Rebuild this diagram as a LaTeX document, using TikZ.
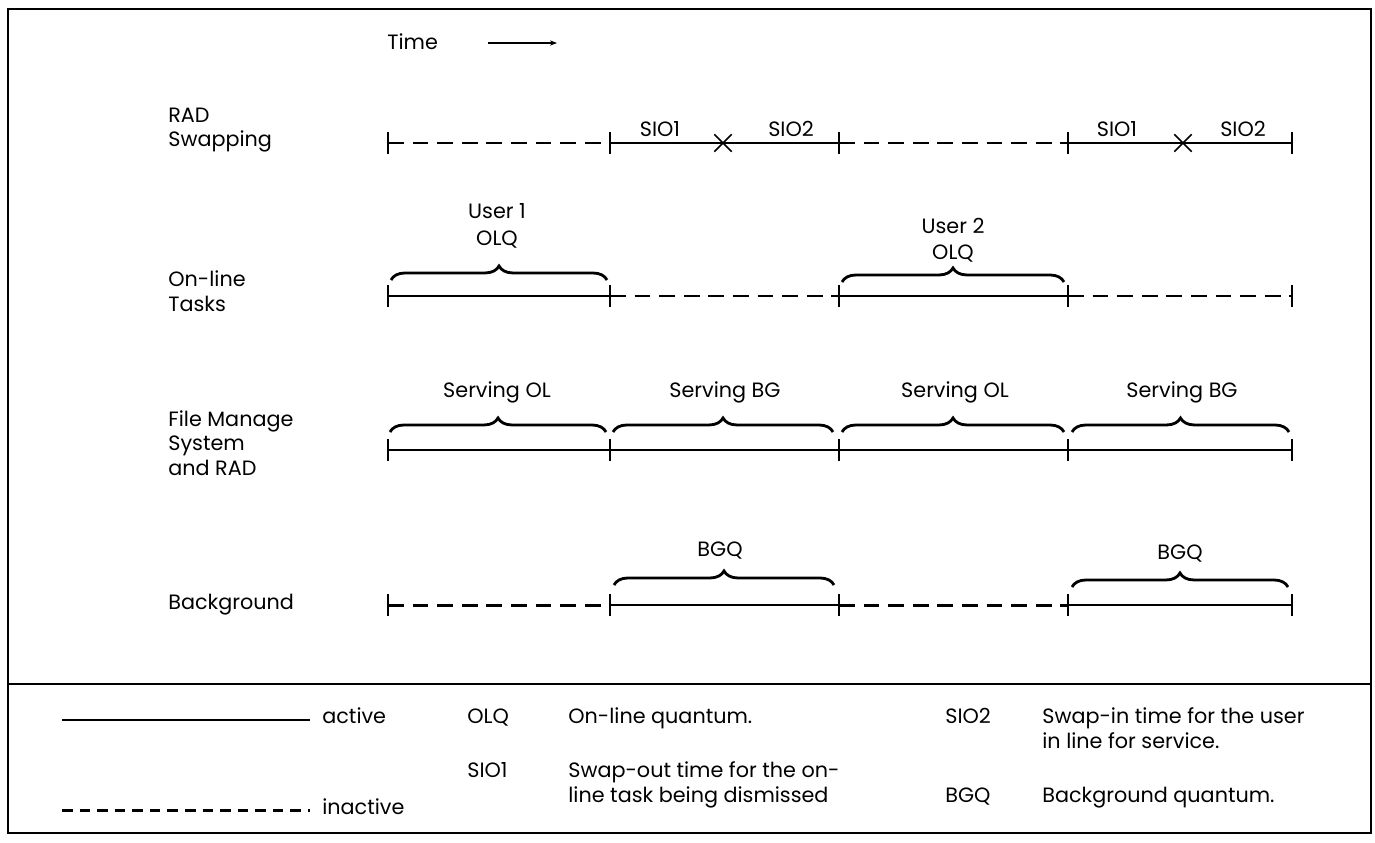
\documentclass[tikz,border=0pt]{standalone}
\usepackage{fontspec}
\setmainfont{Poppins}
\usetikzlibrary{arrows.meta,positioning,decorations.pathreplacing,shapes.misc}

\begin{document}
\begin{tikzpicture}[x=0.02cm,y=-0.02cm,
  lbl/.style={anchor=west,align=left,inner sep=0pt,font=\fontsize{11.8}{14}\selectfont},
  txt/.style={align=center,inner sep=0pt,font=\fontsize{11.8}{15}\selectfont},
  act/.style={line width=1.3pt},
  inact/.style={line width=1.7pt,dash pattern=on 9pt off 5pt},
  tickbar/.style={line width=0.9pt},
  brc/.style={decorate,decoration={brace,amplitude=8pt},line width=1.6pt},
  xmark/.style={cross out,draw,line width=0.9pt,minimum size=9pt,inner sep=0pt}
]
\useasboundingbox (0,0) rectangle (1375,842);
% frame and legend divider
\draw[line width=1.3pt] (8,9) rectangle (1371,833);
\draw[line width=1.3pt] (8,684) -- (1371,684);

% time arrow
\node[lbl] (time) at (387,42) {Time};
\coordinate (ta) at (488,43);
\coordinate (tb) at (557,43);
\draw[line width=0.6pt,-{Stealth[length=4pt,width=3pt]}] (ta) -- (tb);

% row labels
\node[lbl] (rad)  at (168,130) {RAD\\Swapping};
\node[lbl] (olt)  at (168,291) {On-line\\Tasks};
\node[lbl] (fms)  at (168,443) {File Manage\\System\\and RAD};
\node[lbl] (bkg)  at (168,605) {Background};

% tick positions
\foreach \r/\y in {r/143,o/296,f/450,b/605}
  \foreach \i/\x in {0/388,1/610,2/839,3/1068,4/1292}
    \coordinate (\r\i) at (\x,\y);

% RAD swapping
\draw[inact] (r0) -- (r1);
\draw[act] (r1) -- (r2);
\draw[inact] (r2) -- (r3);
\draw[act] (r3) -- (r4);
\node[xmark] (x1) at (723,143) {};
\node[xmark] (x2) at (1183,143) {};
\node[txt,anchor=base] (s1a) at (660,136) {SIO1};
\node[txt,anchor=base] (s2a) at (791,136) {SIO2};
\node[txt,anchor=base] (s1b) at (1117,136) {SIO1};
\node[txt,anchor=base] (s2b) at (1243,136) {SIO2};

% on-line tasks
\draw[act] (o0) -- (o1);
\draw[inact] (o1) -- (o2);
\draw[act] (o2) -- (o3);
\draw[inact] (o3) -- (o4);
\draw[brc] (391,280) -- (607,280);
\draw[brc] (842,282) -- (1064,282);
\node[txt] (u1) at (497,226) {User 1\\OLQ};
\node[txt] (u2) at (953,240) {User 2\\OLQ};

% file manage system and RAD
\draw[act] (f0) -- (f4);
\draw[brc] (390,432) -- (606,432);
\draw[brc] (613,432) -- (833,432);
\draw[brc] (842,432) -- (1064,432);
\draw[brc] (1072,432) -- (1289,432);
\node[txt] (sv1) at (497,392) {Serving OL};
\node[txt] (sv2) at (725,392) {Serving BG};
\node[txt] (sv3) at (955,392) {Serving OL};
\node[txt] (sv4) at (1182,392) {Serving BG};

% background
\draw[inact] (b0) -- (b1);
\draw[act] (b1) -- (b2);
\draw[inact] (b2) -- (b3);
\draw[act] (b3) -- (b4);
\draw[brc] (614,585) -- (834,585);
\draw[brc] (1072,587) -- (1288,587);
\node[txt] (bq1) at (720,551) {BGQ};
\node[txt] (bq2) at (1180,554) {BGQ};

% ticks on every row
\foreach \r in {r,o,f,b}
  \foreach \i in {0,...,4}
    \draw[tickbar] ([yshift=6pt]\r\i) -- ([yshift=-6pt]\r\i);

% legend
\coordinate (la) at (62,720);
\coordinate (lb) at (310,720);
\coordinate (lc) at (62,810);
\coordinate (ld) at (310,810);
\draw[act] (la) -- (lb);
\draw[inact,dash pattern=on 6pt off 4pt] (lc) -- (ld);
\node[lbl,anchor=base west] (kact) at (322,723) {active};
\node[lbl,anchor=base west] (kina) at (322,814) {inactive};
\node[lbl,anchor=base west] (kolq) at (467,723) {OLQ};
\node[lbl,anchor=base west] (dolq) at (568,723) {On-line quantum.};
\node[lbl,anchor=base west] (ksio1) at (467,777) {SIO1};
\node[lbl,anchor=base west] (dsio1) at (568,802) {Swap-out time for the on-\\line task being dismissed};
\node[lbl,anchor=base west] (ksio2) at (945,723) {SIO2};
\node[lbl,anchor=base west] (dsio2) at (1042,748) {Swap-in time for the user\\in line for service.};
\node[lbl,anchor=base west] (kbgq) at (945,802) {BGQ};
\node[lbl,anchor=base west] (dbgq) at (1042,802) {Background quantum.};
\end{tikzpicture}
\end{document}
